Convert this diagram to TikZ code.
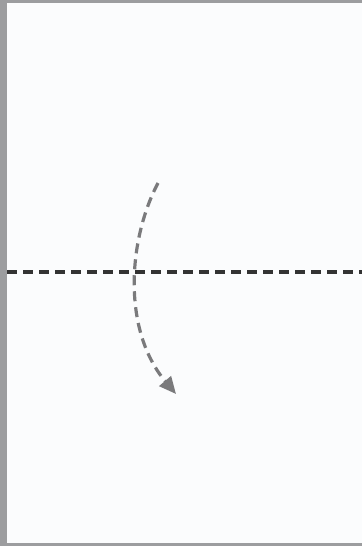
\documentclass[tikz,border=0pt]{standalone}
\usetikzlibrary{arrows.meta}
\definecolor{frame}{HTML}{9C9D9F}
\definecolor{paper}{HTML}{FBFCFD}
\definecolor{foldline}{HTML}{333333}
\definecolor{arrowgrey}{HTML}{7A7A7C}
\begin{document}
\begin{tikzpicture}[x=1pt,y=-1pt,
  valley/.style={draw=foldline,line width=3.4pt,dash pattern=on 10pt off 6pt},
  foldarrow/.style={draw=arrowgrey,line width=3.2pt,dash pattern=on 10pt off 6pt,
    -{Triangle[length=17pt,width=15pt]}}]
\fill[frame] (0,0) rectangle (362,546);
\useasboundingbox (0,0) rectangle (362,546);
\fill[paper] (7,3) rectangle (362,543);
\coordinate (L) at (7,272);
\coordinate (R) at (362,272);
\draw[valley] (L) -- (R);
\coordinate (s) at (158,183);
\coordinate (e) at (176,394);
\draw[foldarrow] (s) .. controls (128,240) and (122,330) .. (e);
\end{tikzpicture}
\end{document}
